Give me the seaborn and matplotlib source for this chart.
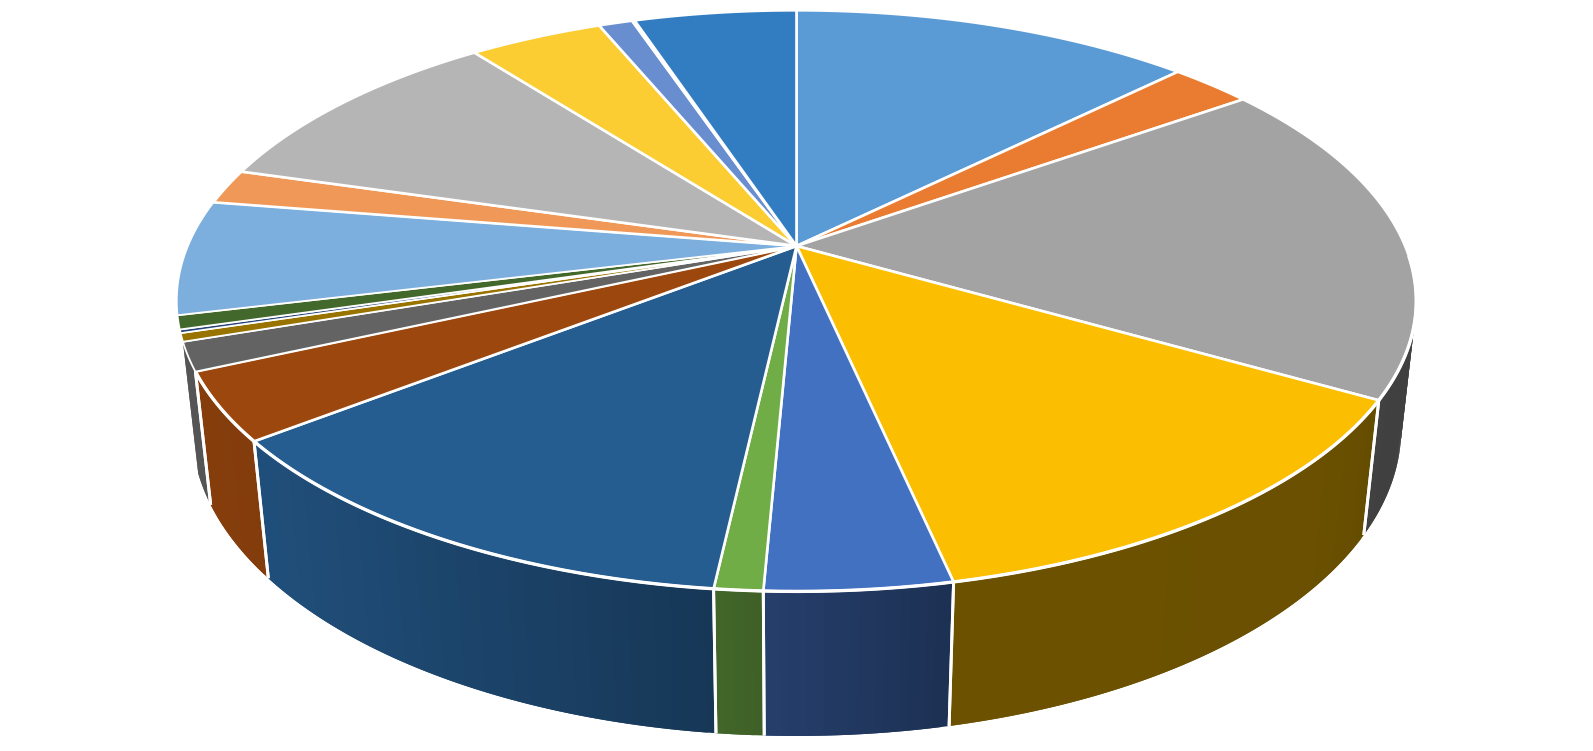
import numpy as np
import matplotlib
matplotlib.use("Agg")
import matplotlib.pyplot as plt
import seaborn as sns

# Anteile der Segmente in %, im Uhrzeigersinn ab 12 Uhr
shares = [12.56, 2.58, 18.17, 13.31, 4.08, 1.06, 12.67, 3.78, 1.58, 0.46,
          0.19, 0.76, 6.36, 1.94, 10.08, 4.19, 1.06, 0.08, 5.08]
slice_colors = ["#5b9bd5", "#e97c30", "#a3a3a3", "#fbbe00", "#4371c2", "#70ad47",
                "#265d91", "#9b470e", "#636363", "#997300", "#264478", "#43682b",
                "#7cafdd", "#f09858", "#b5b5b5", "#fccd33", "#698ed0", "#8cc168",
                "#327dc2"]

# Perspektive der Torte (Pixel)
CX, CY = 796.5, 246.0
A, B = 608.6, 280.2
K = 0.1888        # Verkuerzung nach hinten
M = 0.024         # Boden etwas weiter weg
DEPTH = 129.0

sns.set_theme(style="white")
palette = sns.color_palette(slice_colors)


def project(angle, z=0.0):
    # angle in Grad, 0 = oben, im Uhrzeigersinn; z=0 Deckel, z=1 Boden
    rad = np.radians(angle)
    u, v = np.sin(rad), np.cos(rad)
    w = 1 + K * v + M * z
    return CX + A * u / w, CY - (B * v - DEPTH * z) / w


def shade(x):
    # Seitenwand wird nach rechts dunkler
    return np.interp(x, [200, 270, 700, 950, 1340, 1400], [0.86, 0.84, 0.60, 0.43, 0.42, 0.39])


edges = np.concatenate([[0], np.cumsum(shares)]) / np.sum(shares) * 360
slices = list(zip(edges[:-1], edges[1:], palette))

fig = plt.figure(figsize=(15.93, 7.51), dpi=100)
ax = fig.add_axes([0, 0, 1, 1])
ax.set_xlim(0, 1593)
ax.set_ylim(751, 0)
ax.axis("off")

# Seitenwaende, nur die Segmente von rechts (grau) bis links (dunkelgrau)
VIS_FROM = 85
walls = [s for s in slices if s[1] > VIS_FROM and s[0] < edges[9] - 0.01]
walls.sort(key=lambda s: np.cos(np.radians((s[0] + s[1]) / 2)), reverse=True)
for start, end, color in walls:
    a0 = max(start, VIS_FROM)
    steps = np.linspace(a0, end, max(2, int((end - a0) * 1.5) + 1))
    for i in range(len(steps) - 1):
        # Streifen ueberlappen, damit keine Naht bleibt
        s0, s1 = steps[i], steps[min(i + 2, len(steps) - 1)]
        fan = np.linspace(s0, s1, 4)
        xt, yt = project(fan)
        xb, yb = project(fan, 1)
        f = shade(project((steps[i] + steps[i + 1]) / 2)[0])
        ax.fill(np.r_[xt, xb[::-1]], np.r_[yt, yb[::-1]],
                color=tuple(c * f for c in color), lw=0, zorder=2)
    # weisse Trennlinien an den Kanten
    for a in (start, end):
        if a > VIS_FROM and a < edges[9] - 1 and np.cos(np.radians(a)) < 0:
            xt, yt = project(a)
            xb, yb = project(a, 1)
            ax.plot([xt, xb], [yt, yb], color="white", lw=2.1, zorder=3,
                    solid_capstyle="butt")

# Deckel, die schmalen Segmente links mit duennerer Linie
for idx, (start, end, color) in enumerate(slices):
    steps = np.linspace(start, end, max(2, int((end - start) * 2) + 2))
    xs, ys = project(steps)
    ax.fill(np.r_[CX, xs], np.r_[CY, ys], facecolor=color, edgecolor="white",
            lw=1.3 if 8 <= idx <= 12 else 1.9, joinstyle="round", zorder=4)

# vorderer Rand etwas kraeftiger
front = np.linspace(92, edges[8], 300)
xf, yf = project(front)
ax.plot(xf, yf, color="white", lw=2.4, zorder=5, solid_capstyle="butt")

fig.savefig("out.png", dpi=100, facecolor="white")
